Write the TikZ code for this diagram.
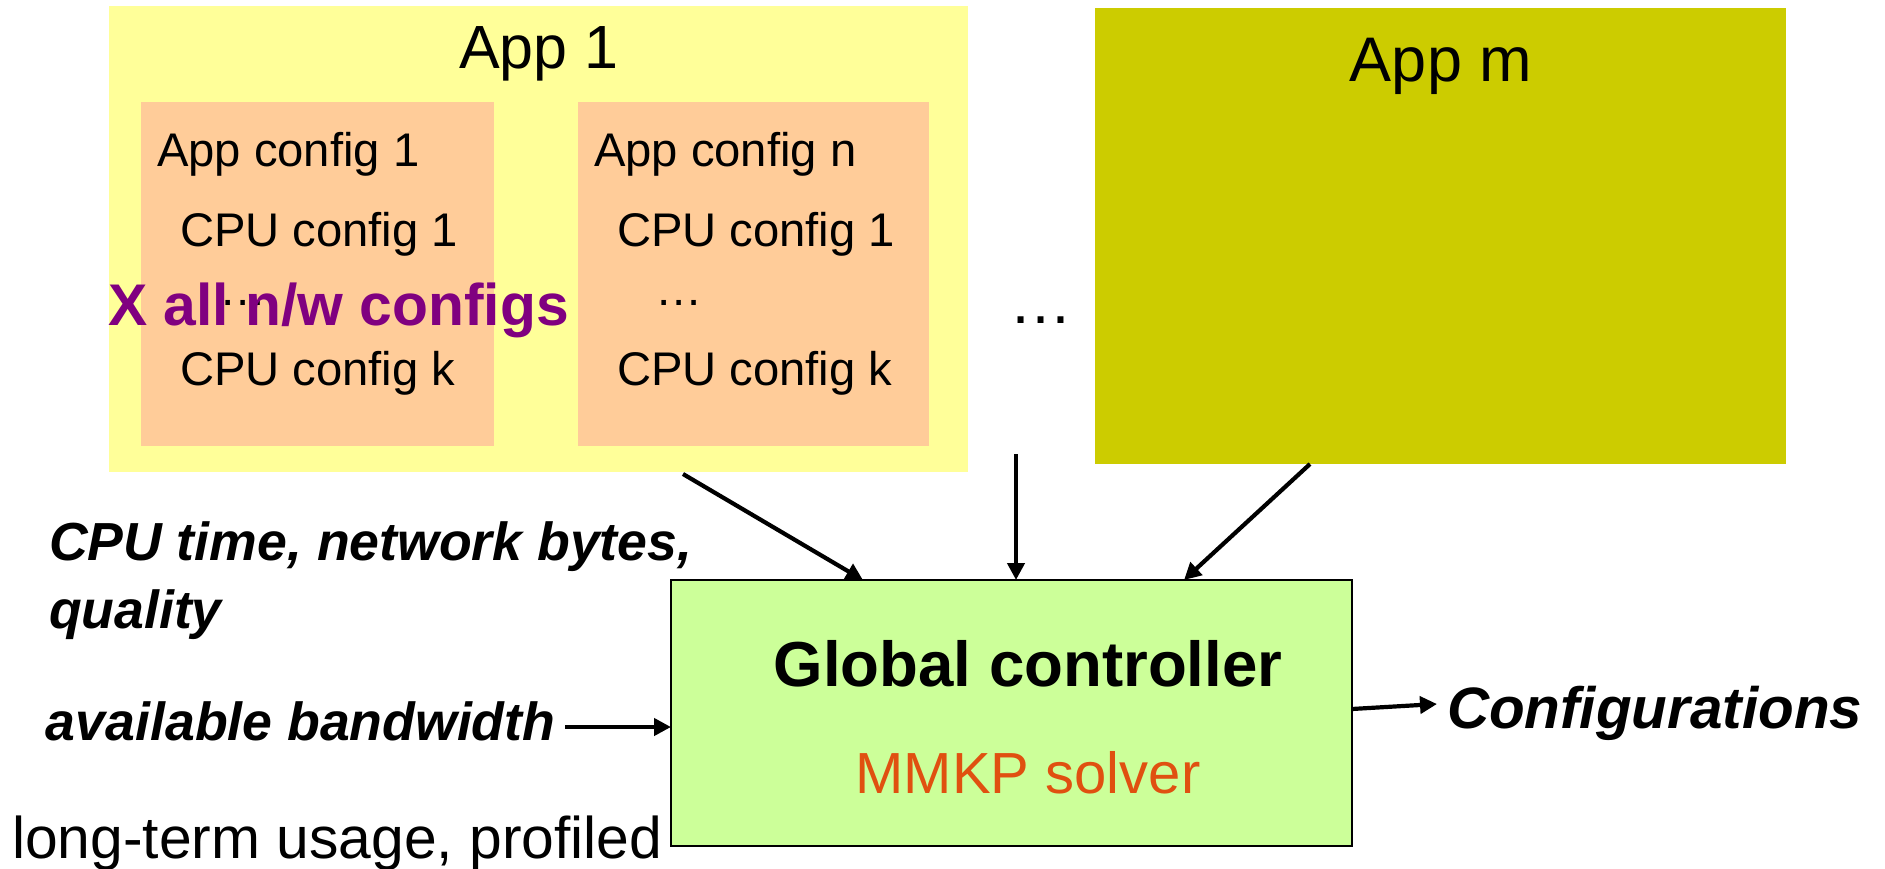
\documentclass[tikz,border=0pt]{standalone}
\usepackage{fontspec}
\setmainfont{Liberation Sans}
\usetikzlibrary{arrows.meta}
\definecolor{appone}{HTML}{FFFF99}
\definecolor{cfgfill}{HTML}{FFCC99}
\definecolor{appmfill}{HTML}{CCCC00}
\definecolor{gcfill}{HTML}{CCFF99}
\definecolor{xpurple}{HTML}{800080}
\definecolor{solver}{RGB}{224,80,16}
\begin{document}
\begin{tikzpicture}[x=0.5pt,y=-0.5pt,
  panel/.style={rectangle,inner sep=0pt,outer sep=0pt},
  txt/.style={inner sep=0pt,outer sep=0pt,anchor=base west},
  cfgtxt/.style={txt,font=\fontsize{23.6pt}{28pt}\selectfont},
  leftlbl/.style={txt,font=\fontsize{26.8pt}{32pt}\selectfont\bfseries\itshape},
  arr/.style={line width=2.1pt,-{Triangle[length=8.5pt,width=8.5pt]}}]
\useasboundingbox (0,0) rectangle (1885,868);

% application panels
\node[panel,fill=appone,minimum width=429.5pt,minimum height=233pt] (app1) at (538.5,239) {};
\node[panel,fill=cfgfill,minimum width=176.5pt,minimum height=172pt] (cfg1) at (317.5,274) {};
\node[panel,fill=cfgfill,minimum width=175.5pt,minimum height=172pt] (cfgn) at (753.5,274) {};
\node[panel,fill=appmfill,minimum width=345.5pt,minimum height=228pt] (appm) at (1440.5,236) {};

\node[inner sep=0pt,anchor=base,font=\fontsize{30.5pt}{36pt}\selectfont] (app1t) at (539,68) {App 1};
\node[inner sep=0pt,anchor=base,font=\fontsize{31.5pt}{38pt}\selectfont] (appmt) at (1441,81) {App m};

% configurations of App 1
\node[cfgtxt] (c1a) at (157,166) {App config 1};
\node[cfgtxt] (c1b) at (180,246) {CPU config 1};
\node[cfgtxt] (c1c) at (219,305) {…};
\node[cfgtxt] (c1d) at (180,385) {CPU config k};

\node[cfgtxt] (cna) at (594,166) {App config n};
\node[cfgtxt] (cnb) at (617,246) {CPU config 1};
\node[cfgtxt] (cnc) at (655,305) {…};
\node[cfgtxt] (cnd) at (617,385) {CPU config k};

\node[txt,font=\fontsize{29.4pt}{35pt}\selectfont\bfseries,text=xpurple] (xall) at (108,325) {X all n/w configs};

\node[txt,font=\fontsize{31.5pt}{38pt}\selectfont] (dots) at (1009,323) {…};

% controller
\node[panel,draw=black,line width=0.75pt,fill=gcfill,minimum width=340.5pt,minimum height=133pt] (gc) at (1011.5,713) {};
\node[inner sep=0pt,anchor=base,font=\fontsize{31.8pt}{38pt}\selectfont\bfseries] (gct) at (1028,686) {Global controller};
\node[inner sep=0pt,anchor=base,font=\fontsize{29pt}{35pt}\selectfont,text=solver] (mmkp) at (1028,793) {MMKP solver};

% side labels
\node[leftlbl] (cpu) at (49,560) {CPU time, network bytes,};
\node[leftlbl] (qual) at (49,628) {quality};
\node[leftlbl] (bw) at (46,740) {available bandwidth};
\node[txt,font=\fontsize{29.2pt}{35pt}\selectfont\bfseries\itshape] (out) at (1447,728) {Configurations};
\node[txt,font=\fontsize{29.4pt}{35pt}\selectfont] (lt) at (12,858) {long-term usage, profiled};

% connectors
\coordinate (a1s) at (683,474);
\coordinate (a1e) at (863,0);
\coordinate (a2s) at (1016,454);
\coordinate (a3s) at (1310,0);
\coordinate (a3e) at (1184,0);
\coordinate (bws) at (565,727);
\coordinate (outs) at (0,709);
\coordinate (oute) at (1437,704);

\draw[arr] (a1s) -- (a1e |- gc.north);
\draw[arr] (a2s) -- (a2s |- gc.north);
\draw[arr] (a3s |- appm.south) -- (a3e |- gc.north);
\draw[arr] (bws) -- (bws -| gc.west);
\draw[arr] (outs -| gc.east) -- (oute);
\end{tikzpicture}
\end{document}
